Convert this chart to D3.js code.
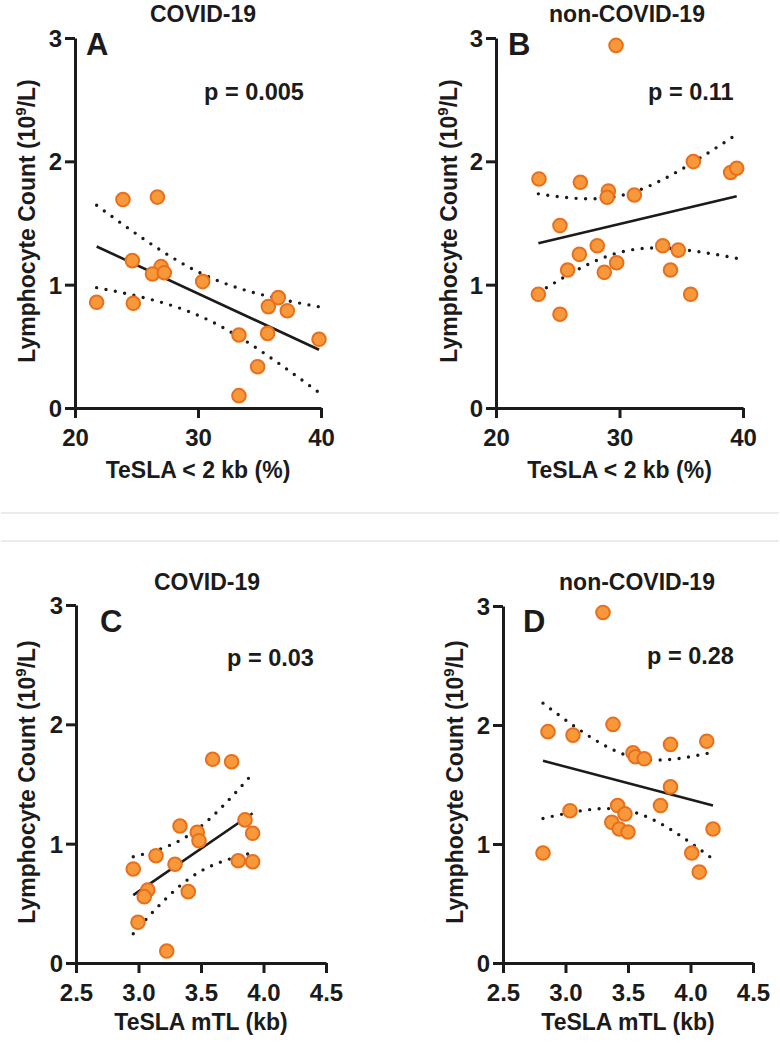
<!DOCTYPE html>
<html>
<head>
<meta charset="utf-8">
<script src="https://cdn.jsdelivr.net/npm/d3@7"></script>
<style>
  body { margin: 0; background: #fff; }
  text { font-family: "Liberation Sans", Arial, sans-serif; font-weight: bold; fill: #1b1b1b; }
</style>
</head>
<body>
<div id="chart"></div>
<script>
// panel A: COVID-19, TeSLA < 2 kb (%)
let covidShort = [23.9, 26.7, 24.66, 27.0, 26.3, 27.26, 30.38, 21.76, 24.74, 36.53, 35.72, 37.26, 33.33, 35.66, 39.84, 34.85, 33.33];
let covidLymphA = [1.69, 1.71, 1.195, 1.146, 1.087, 1.097, 1.025, 0.857, 0.849, 0.895, 0.822, 0.789, 0.592, 0.605, 0.557, 0.335, 0.10];

// panel B: non-COVID-19, TeSLA < 2 kb (%)
let nonShort = [29.72, 23.48, 26.83, 29.1, 29.0, 31.2, 35.98, 39.0, 39.49, 25.18, 28.2, 33.5, 34.76, 26.75, 25.8, 28.77, 29.77, 34.13, 23.43, 25.18, 35.76];
let nonLymphB = [2.94, 1.857, 1.83, 1.76, 1.709, 1.727, 1.998, 1.91, 1.944, 1.479, 1.316, 1.316, 1.28, 1.246, 1.119, 1.10, 1.178, 1.119, 0.922, 0.76, 0.922];

// panel C: COVID-19, TeSLA mTL (kb)
let covidMtl = [3.593, 3.745, 3.852, 3.332, 3.47, 3.913, 3.484, 3.14, 2.958, 3.292, 3.798, 3.913, 3.074, 3.046, 3.398, 2.996, 3.226];
let covidLymphC = [1.707, 1.687, 1.199, 1.148, 1.095, 1.087, 1.025, 0.899, 0.788, 0.827, 0.857, 0.849, 0.612, 0.556, 0.598, 0.341, 0.10];

// panel D: non-COVID-19, TeSLA mTL (kb)
let nonMtl = [3.30, 2.86, 3.06, 3.38, 3.84, 4.13, 3.54, 3.56, 3.63, 3.84, 3.036, 3.417, 3.476, 3.76, 3.37, 3.43, 3.50, 4.18, 2.82, 4.01, 4.07];
let nonLymphD = [2.946, 1.944, 1.915, 2.005, 1.837, 1.864, 1.767, 1.733, 1.716, 1.48, 1.28, 1.323, 1.253, 1.323, 1.182, 1.126, 1.101, 1.126, 0.924, 0.924, 0.764];

let yTicks = [0, 1, 2, 3];
let shortTicks = [20, 30, 40];
let mtlTicks = [2.5, 3.0, 3.5, 4.0, 4.5];
let pLabels = ['p = 0.005', 'p = 0.11', 'p = 0.03', 'p = 0.28'];

let width = 780, height = 1043;

let svg = d3.select('#chart').append('svg')
    .attr('width', width)
    .attr('height', height);

function translate(x, y) { return 'translate(' + x + ',' + y + ')'; }

// two-sided 95% t critical value (Cornish-Fisher expansion)
function tCrit(df) {
    let z = 1.959964;
    let g1 = (Math.pow(z, 3) + z) / 4;
    let g2 = (5 * Math.pow(z, 5) + 16 * Math.pow(z, 3) + 3 * z) / 96;
    let g3 = (3 * Math.pow(z, 7) + 19 * Math.pow(z, 5) + 17 * Math.pow(z, 3) - 15 * z) / 384;
    return z + g1 / df + g2 / (df * df) + g3 / (df * df * df);
}

function fit(xs, ys) {
    let n = xs.length;
    let mx = d3.mean(xs), my = d3.mean(ys);
    let sxx = d3.sum(xs, d => (d - mx) * (d - mx));
    let sxy = d3.sum(xs, (d, i) => (d - mx) * (ys[i] - my));
    let b = sxy / sxx, a = my - b * mx;
    let sse = d3.sum(xs, (d, i) => Math.pow(ys[i] - (a + b * d), 2));
    let s = Math.sqrt(sse / (n - 2));
    let t = tCrit(n - 2);
    let band = x => t * s * Math.sqrt(1 / n + (x - mx) * (x - mx) / sxx);
    return { a, b, band };
}

let panels = [
    { xs: covidShort, ys: covidLymphA, xTicks: shortTicks, fmt: d3.format('d'), xTitle: 'TeSLA < 2 kb (%)',
      title: 'COVID-19', letter: 'A', p: pLabels[0],
      left: 75, right: 321, top: 38, bottom: 408,
      titleX: 203, titleY: 22, letterX: 86, letterY: 55, pX: 204, pY: 100, yTitleX: 35, yTitleY: 221, xTitleY: 478 },
    { xs: nonShort, ys: nonLymphB, xTicks: shortTicks, fmt: d3.format('d'), xTitle: 'TeSLA < 2 kb (%)',
      title: 'non-COVID-19', letter: 'B', p: pLabels[1],
      left: 496, right: 743, top: 38, bottom: 408,
      titleX: 627, titleY: 22, letterX: 508, letterY: 55, pX: 648, pY: 100, yTitleX: 457, yTitleY: 221, xTitleY: 478 },
    { xs: covidMtl, ys: covidLymphC, xTicks: mtlTicks, fmt: d3.format('.1f'), xTitle: 'TeSLA mTL (kb)',
      title: 'COVID-19', letter: 'C', p: pLabels[2],
      left: 76, right: 326, top: 605, bottom: 963,
      titleX: 207, titleY: 590, letterX: 100, letterY: 632, pX: 227, pY: 666, yTitleX: 35, yTitleY: 782, xTitleY: 1030 },
    { xs: nonMtl, ys: nonLymphD, xTicks: mtlTicks, fmt: d3.format('.1f'), xTitle: 'TeSLA mTL (kb)',
      title: 'non-COVID-19', letter: 'D', p: pLabels[3],
      left: 503, right: 753, top: 606, bottom: 963,
      titleX: 637, titleY: 590, letterX: 523, letterY: 632, pX: 647, pY: 664, yTitleX: 463, yTitleY: 782, xTitleY: 1030 }
];

// faint separator between the two rows
[513, 541].forEach(yy => {
    svg.append('line')
        .attr('x1', 1).attr('x2', 779)
        .attr('y1', yy).attr('y2', yy)
        .attr('stroke', '#e4e4e4')
        .attr('stroke-width', 1.5);
});

function drawPanel(p) {
    let g = svg.append('g');

    let x = d3.scaleLinear()
        .domain(d3.extent(p.xTicks))
        .range([p.left, p.right]);
    let y = d3.scaleLinear()
        .domain([0, 3])
        .range([p.bottom, p.top]);

    let xAxis = g.append('g')
        .attr('transform', translate(0, p.bottom))
        .call(d3.axisBottom(x).tickValues(p.xTicks).tickFormat(p.fmt)
            .tickSize(10).tickSizeOuter(0).tickPadding(11));
    let yAxis = g.append('g')
        .attr('transform', translate(p.left, 0))
        .call(d3.axisLeft(y).tickValues(yTicks).tickFormat(d3.format('d'))
            .tickSize(10).tickSizeOuter(0).tickPadding(3));

    [xAxis, yAxis].forEach(ax => {
        ax.attr('font-size', 24);
        ax.selectAll('path, line').attr('stroke', '#1b1b1b').attr('stroke-width', 3);
        ax.selectAll('text').attr('fill', '#1b1b1b');
    });
    yAxis.selectAll('text').attr('dy', '0.36em');

    // regression line and 95% confidence band
    let f = fit(p.xs, p.ys);
    let [x0, x1] = d3.extent(p.xs);
    let steps = d3.range(0, 61).map(i => x0 + (x1 - x0) * i / 60);
    let line = d3.line().x(d => x(d[0])).y(d => y(d[1]));

    let upper = steps.map(v => [v, f.a + f.b * v + f.band(v)]);
    let lower = steps.map(v => [v, f.a + f.b * v - f.band(v)]);
    [upper, lower].forEach(band => {
        g.append('path')
            .attr('d', line(band))
            .attr('fill', 'none')
            .attr('stroke', '#1b1b1b')
            .attr('stroke-width', 3.4)
            .attr('stroke-linecap', 'round')
            .attr('stroke-dasharray', '0 9.5');
    });

    g.append('path')
        .attr('d', line([[x0, f.a + f.b * x0], [x1, f.a + f.b * x1]]))
        .attr('fill', 'none')
        .attr('stroke', '#1b1b1b')
        .attr('stroke-width', 2.6);

    g.selectAll('.dot')
        .data(p.xs.map((d, i) => [d, p.ys[i]]))
        .enter()
        .append('circle')
        .attr('class', 'dot')
        .attr('cx', d => x(d[0]))
        .attr('cy', d => y(d[1]))
        .attr('r', 6.8)
        .attr('fill', '#f7993a')
        .attr('stroke', '#e8701c')
        .attr('stroke-width', 2);

    // texts
    g.append('text')
        .attr('x', p.titleX).attr('y', p.titleY)
        .attr('text-anchor', 'middle')
        .attr('font-size', 23)
        .text(p.title);

    g.append('text')
        .attr('x', p.letterX).attr('y', p.letterY)
        .attr('font-size', 31)
        .text(p.letter);

    g.append('text')
        .attr('x', p.pX).attr('y', p.pY)
        .attr('font-size', 23.5)
        .text(p.p);

    g.append('text')
        .attr('x', (p.left + p.right) / 2).attr('y', p.xTitleY)
        .attr('text-anchor', 'middle')
        .attr('font-size', 23)
        .text(p.xTitle);

    let yt = g.append('text')
        .attr('transform', translate(p.yTitleX, p.yTitleY) + ' rotate(-90)')
        .attr('text-anchor', 'middle')
        .attr('font-size', 23);
    yt.append('tspan').text('Lymphocyte Count (10');
    yt.append('tspan').attr('dy', -9).attr('font-size', 15).text('9');
    yt.append('tspan').attr('dy', 9).text('/L)');
}

panels.forEach(drawPanel);
</script>
</body>
</html>
